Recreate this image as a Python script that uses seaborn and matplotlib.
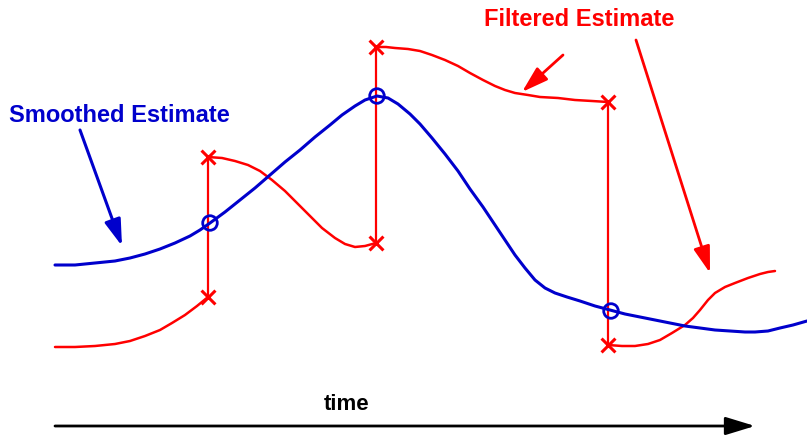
import matplotlib
matplotlib.use("Agg")
import matplotlib.pyplot as plt
import seaborn as sns

sns.set_style("white")
plt.rcParams['font.family'] = ['Liberation Sans', 'DejaVu Sans']

# Smoothed estimate (time, value in pixel-like units; y grows downward)
smooth_t = [55, 75, 95, 115, 130, 145, 160, 175, 190, 200, 210, 225, 240, 255, 270, 285,
            300, 315, 330, 342, 355, 365, 377, 388, 398, 410, 420, 432, 445, 458,
            470, 483, 495, 505, 515, 525, 535, 545, 555, 567, 580, 595, 610, 625, 640,
            655, 670, 685, 700, 715, 730, 745, 755, 768, 780, 793, 807]
smooth_v = [265, 265, 263, 261, 258, 254, 249, 243, 236, 230, 223, 212, 200, 188, 175, 162,
            150, 137, 125, 115, 106, 100, 96, 98, 104, 114, 124, 138, 154, 171,
            189, 207, 225, 240, 255, 268, 280, 288, 293, 297, 301, 306, 310, 314, 317,
            320, 323, 326, 328, 330, 331, 332, 332, 331, 328, 325, 321]

# Filtered estimate segments between measurements
filt1_t = [55, 75, 95, 115, 130, 145, 160, 172, 185, 197, 208]
filt1_v = [347, 347, 346, 344, 341, 336, 330, 323, 315, 306, 297]
filt2_t = [208, 222, 235, 248, 260, 272, 285, 297, 310, 322, 335, 345, 355, 365, 376]
filt2_v = [157, 158, 161, 165, 171, 180, 191, 203, 216, 228, 238, 244, 247, 246, 243]
filt3_t = [376, 386, 395, 408, 420, 432, 445, 458, 470, 483, 495, 505, 515, 528, 540,
           558, 575, 592, 608]
filt3_v = [47, 47, 48, 49, 51, 55, 60, 66, 73, 80, 86, 90, 93, 95, 97, 98, 100, 101, 102]
filt4_t = [608, 622, 635, 648, 660, 672, 685, 693, 700, 708, 715, 725, 735, 748, 760, 768, 775]
filt4_v = [345, 346, 346, 344, 340, 333, 325, 318, 310, 300, 293, 287, 283, 278, 274, 272, 271]

# Measurement updates: before / after values at update times
upd_t = [208, 376, 608]
upd_before = [297, 243, 102]
upd_after = [157, 47, 345]
smooth_pts_t = [210, 377, 611]
smooth_pts_v = [223, 96, 311]

RED = "#ff0000"
BLUE = "#0000cc"

fig = plt.figure(figsize=(8.07, 4.37), dpi=100)
ax = fig.add_axes([0, 0, 1, 1])

for t, v in [(filt1_t, filt1_v), (filt2_t, filt2_v), (filt3_t, filt3_v), (filt4_t, filt4_v)]:
    sns.lineplot(x=t, y=v, sort=False, estimator=None, color=RED, lw=1.8, ax=ax)

for t, b, a in zip(upd_t, upd_before, upd_after):
    sns.lineplot(x=[t, t], y=[b, a], sort=False, estimator=None, color=RED, lw=1.6, ax=ax)

sns.scatterplot(x=upd_t + upd_t, y=upd_before + upd_after, marker="x", color=RED,
                s=100, linewidth=2.2, ax=ax, zorder=5)

sns.lineplot(x=smooth_t, y=smooth_v, sort=False, estimator=None, color=BLUE, lw=2.2, ax=ax)
sns.scatterplot(x=smooth_pts_t, y=smooth_pts_v, marker="o", facecolor="none",
                edgecolor=BLUE, s=110, linewidth=2, ax=ax, zorder=6)

ax.set_xlim(0, 807)
ax.set_ylim(437, 0)
ax.axis("off")

# Labels and arrows
ax.text(9, 116, "Smoothed Estimate", color=BLUE, fontsize=17, fontweight="bold",
        ha="left", va="center")
ax.annotate("", xy=(122, 246), xytext=(80, 130),
            arrowprops=dict(arrowstyle="-|>,head_length=1.6,head_width=0.5",
                            color=BLUE, lw=2.2, shrinkA=0, shrinkB=0))

ax.text(579, 20, "Filtered Estimate", color=RED, fontsize=17, fontweight="bold",
        ha="center", va="center")
ax.annotate("", xy=(522, 92), xytext=(563, 55),
            arrowprops=dict(arrowstyle="-|>,head_length=1.6,head_width=0.5",
                            color=RED, lw=2, shrinkA=0, shrinkB=0))
ax.annotate("", xy=(710, 273), xytext=(636, 40),
            arrowprops=dict(arrowstyle="-|>,head_length=1.6,head_width=0.5",
                            color=RED, lw=2, shrinkA=0, shrinkB=0))

ax.text(347, 405, "time", color="black", fontsize=16, fontweight="bold",
        ha="center", va="center")
ax.annotate("", xy=(755, 426), xytext=(55, 426),
            arrowprops=dict(arrowstyle="-|>,head_length=1.8,head_width=0.55",
                            color="black", lw=2, shrinkA=0, shrinkB=0))

fig.savefig("out.png", dpi=100)
